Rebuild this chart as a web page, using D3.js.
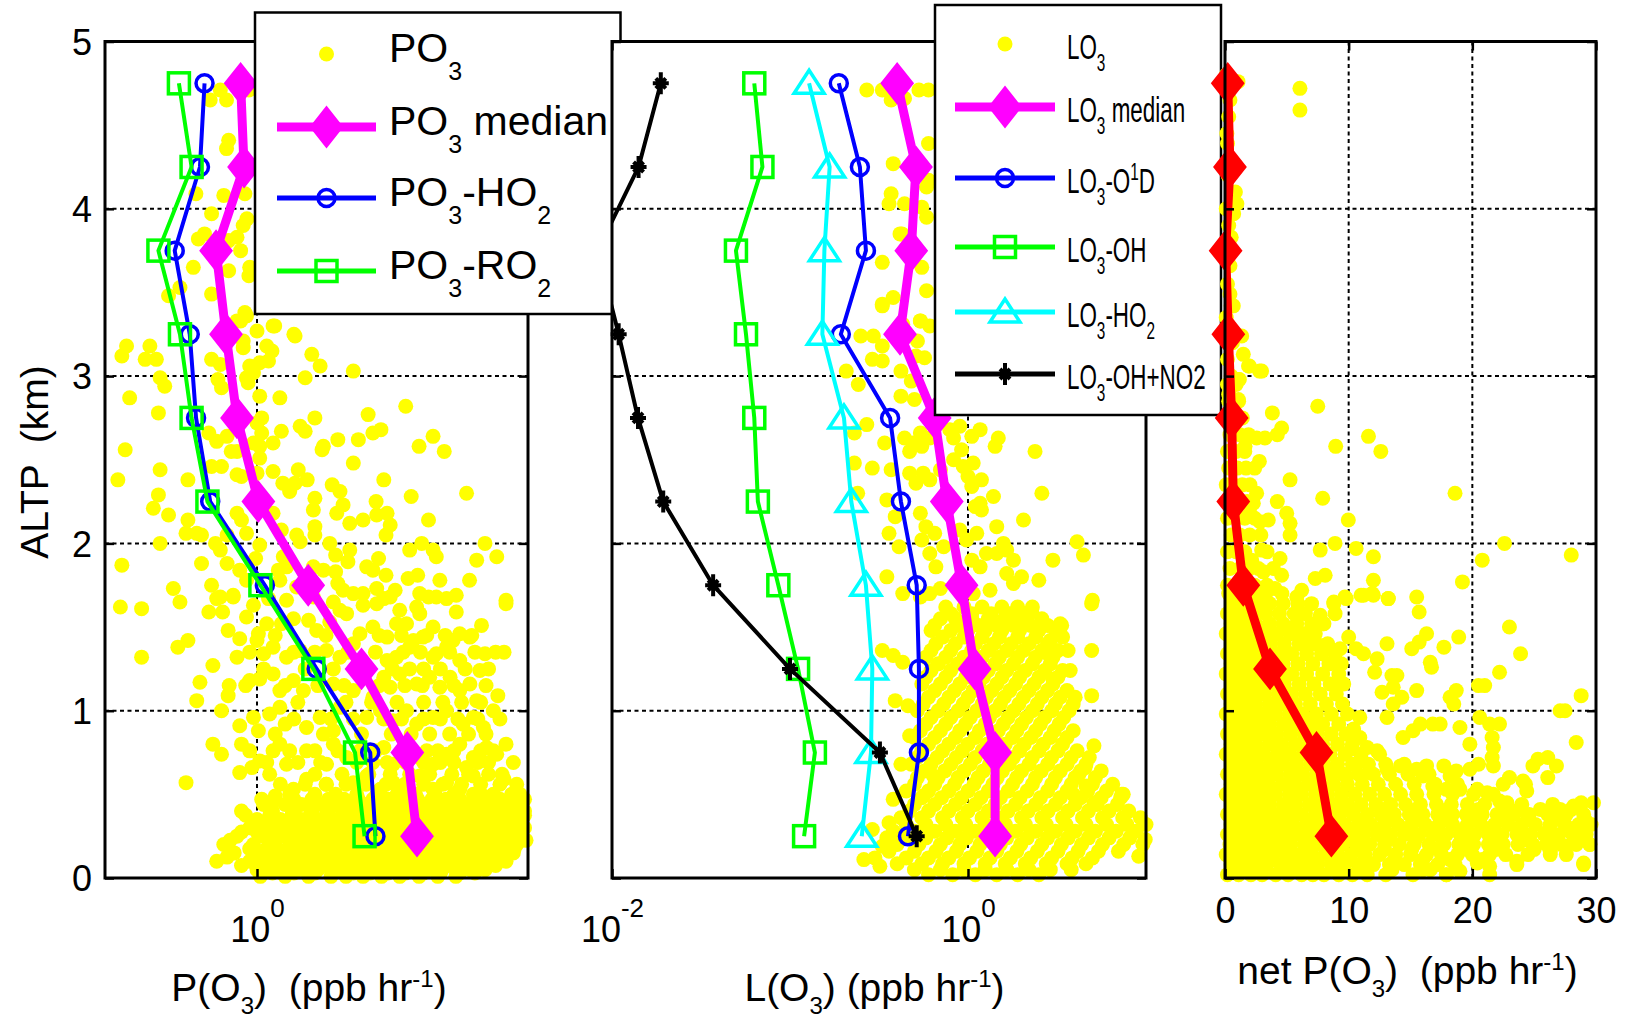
<!DOCTYPE html>
<html>
<head>
<meta charset="utf-8">
<script src="https://d3js.org/d3.v7.min.js"></script>
<style>
  body { margin: 0; background: #fff; }
  svg { display: block; }
  text { white-space: pre; }
</style>
</head>
<body>
<svg width="1630" height="1022"><defs></defs></svg>

<script>
// altitude bins (km)
var alts = [0.25, 0.75, 1.25, 1.75, 2.25, 2.75, 3.25, 3.75, 4.25, 4.75];

// panel 1 : P(O3)
var po3Median = [10.0, 8.7, 4.5, 2.09, 1.02, 0.75, 0.64, 0.555, 0.83, 0.79];
var po3HO2    = [5.5, 5.1, 2.36, 1.12, 0.51, 0.416, 0.38, 0.306, 0.44, 0.47];
var po3RO2    = [4.7, 4.1, 2.25, 1.05, 0.49, 0.39, 0.33, 0.242, 0.39, 0.325];

// panel 2 : L(O3)
var lo3Median = [1.42, 1.42, 1.09, 0.92, 0.76, 0.65, 0.415, 0.48, 0.51, 0.40];
var lo3O1D    = [0.46, 0.53, 0.53, 0.515, 0.42, 0.365, 0.193, 0.267, 0.247, 0.188];
var lo3OH     = [0.12, 0.138, 0.111, 0.086, 0.066, 0.063, 0.0566, 0.0497, 0.070, 0.063];
var lo3HO2    = [0.253, 0.285, 0.29, 0.267, 0.221, 0.201, 0.152, 0.156, 0.167, 0.128];
var lo3OHNO2  = [0.515, 0.32, 0.10, 0.037, 0.0194, 0.014, 0.0109, 0.0083, 0.0141, 0.0188];

// panel 3 : net P(O3)
var netMedian = [8.6, 7.4, 3.64, 1.48, 0.67, 0.54, 0.27, 0.05, 0.40, 0.22];

// scatter, single points [value, alt]
var po3Pts = [[0.59,4.71],[0.645,4.65],[0.51,4.65],[0.89,4.71],[0.665,4.41],[0.645,4.36],[0.415,4.09],[0.62,4.08],[0.84,4.09],[0.865,3.94],[0.82,3.9],[0.52,3.97],[0.47,3.85],[0.43,3.82],[0.75,3.83],[0.665,3.81],[0.79,3.75],[0.9,3.65],[0.665,3.63],[0.4,3.65],[0.89,3.6],[0.52,3.49],[0.28,3.48],[0.33,3.53],[0.84,3.38],[0.79,3.33],[1.29,3.3],[1.7,3.25],[1.0,3.27],[0.59,3.25],
[0.75,3.33],[0.86,3.36],[1.26,3.3],[1.73,3.24],[0.82,3.21],[0.82,3.17],[1.15,3.18],[1.24,3.15],[1.18,3.09],[1.04,3.08],[2.2,3.13],[2.48,3.06],[4.0,3.03],[2.0,2.99],[0.9,3.06],[0.95,3.02],[0.86,2.99],[0.88,2.96],[0.59,3.07],[0.52,3.1],[0.57,2.98],[0.6,2.93],[1.04,2.88],[1.39,2.87],[0.153,3.18],[0.214,3.18],[0.2,3.1],[0.235,3.1],[0.143,3.12],[0.248,2.99],[0.265,2.94],[0.16,2.87],[0.242,2.78],[0.5,2.66],[0.56,2.61],[0.65,2.64],[0.69,2.55],[0.75,2.55],[0.95,2.6],[1.04,2.58],[1.07,2.66],[1.0,2.72],[1.07,2.75],[1.26,2.6],[1.42,2.67],[1.86,2.7],[2.0,2.67],[2.3,2.75],[2.6,2.58],[2.55,2.56],[3.2,2.62],[4.3,2.62],[5.3,2.66],[5.95,2.68],[4.95,2.77],[8.5,2.82],[12.6,2.64],[10.3,2.58],[14.8,2.55],[4.0,2.48],[0.15,2.56],[0.248,2.44],[0.135,2.38],[0.37,2.38],[0.52,2.46],[0.6,2.46],[0.75,2.41],[0.8,2.4],[1.04,2.51],[1.0,2.42],[1.26,2.43],[1.81,2.44],[2.06,2.38],[1.45,2.36],[1.6,2.31],[1.73,2.36],[2.95,2.35],[3.3,2.31],[2.3,2.27],[2.25,2.2],[3.45,2.23],[3.15,2.18],[3.8,2.12],[4.6,2.14],[5.55,2.25],[6.2,2.38],[9.2,2.28],[20.4,2.3],[5.6,2.17],[6.5,2.18],[6.8,2.11],[6.4,2.05],[11.8,2.14],[0.242,2.29],[0.225,2.21],[0.28,2.17],[0.37,2.14],[0.36,2.06],[0.42,2.06],[0.248,2.0],[0.45,2.05],[0.55,2.0],[0.59,1.96],[0.65,2.05],[0.75,2.18],[0.8,2.14],[0.86,2.06],[1.04,1.99],[1.26,2.18],[1.42,2.08],[1.77,2.05],[1.86,2.01],[2.3,2.1],[2.3,2.05],[2.85,2.0],[3.1,1.93],[3.7,1.89],[3.8,1.96],[5.75,1.91],[4.85,1.86],[5.3,1.84],[6.4,1.81],[9.0,1.96],[10.7,2.0],[12.6,1.96],[13.2,1.92],[26.6,2.0],[31.5,1.92],[23.6,1.9],[21.3,1.78],[13.9,1.78],[10.1,1.81],[8.8,1.79],[3.1,1.83],[3.2,1.76],[3.45,1.72],[4.6,1.7],[5.6,1.73],[7.3,1.72],[0.143,1.87],[0.3,1.73],[0.45,1.88],[0.52,1.75],[0.59,1.68],[0.71,1.69],[0.65,1.88],[0.78,1.84],[0.86,1.78],[0.98,1.91],[1.46,1.92],[1.53,1.86],[1.36,1.84],[1.39,1.78],[1.77,1.74],[2.25,1.86],[2.6,1.84],[17.6,1.69],[36,1.66],[11.8,1.68],[10.4,1.7],[6.2,1.67],
[0.14,1.62],[0.19,1.61],[0.33,1.65],[0.5,1.59],[0.56,1.67],[0.61,1.59],[0.71,1.68],[0.86,1.56],[0.95,1.63],[1.18,1.67],[1.53,1.66],[2.25,1.68],[3.0,1.65],[3.3,1.6],[4.0,1.7],[4.6,1.63],[5.6,1.64],[6.8,1.68],[7.8,1.6],[9.95,1.62],[10.4,1.58],[13.2,1.68],[15.3,1.67],[17.6,1.59],[36,1.64],[0.66,1.48],[0.78,1.43],[1.02,1.46],[1.15,1.52],[1.42,1.52],[1.69,1.55],[2.1,1.54],[2.36,1.48],[2.85,1.53],[3.63,1.58],[4.4,1.46],[5.3,1.5],[6.5,1.44],[7.45,1.52],[8.6,1.52],[9.5,1.42],[10.9,1.44],[12.6,1.5],[16.8,1.42],[18.5,1.46],[21.4,1.44],[25.3,1.51],[35,1.35],[26.6,1.34],[15.3,1.38],[13.2,1.34],[0.19,1.32],[0.32,1.38],[0.37,1.42],[0.75,1.32],[0.53,1.27],[1.0,1.42],[1.1,1.34],[1.26,1.38],[1.53,1.32],[1.86,1.36],[2.72,1.36],[3.3,1.32],[4.0,1.4],[6.5,1.3],[7.45,1.32],[9.0,1.38],[12.6,1.32],[18.5,1.3],[24.7,1.24],[0.44,1.17],[0.42,1.06],[0.67,1.15],[0.66,1.09],[0.9,1.18],[1.04,1.19],[1.26,1.22],[1.39,1.12],[1.69,1.18],[1.95,1.12],[3.0,1.16],[4.0,1.12],[5.3,1.08],[6.2,1.2],[6.8,1.14],[7.8,1.22],[9.95,1.16],[12.0,1.2],[13.9,1.14],[16.1,1.2],[18.5,1.12],[21.4,1.16],[23.6,1.06],[32,1.09],[0.6,1.0],[0.78,0.91],[0.95,0.96],[1.02,0.88],[1.2,0.98],[1.39,1.02],[1.5,0.92],[2.04,0.9],[2.48,0.96],[3.0,0.88],[3.3,1.02],[4.85,0.96],[5.9,1.0],[7.1,0.94],[8.6,1.0],[9.95,0.92],[12.6,0.96],[15.3,1.0],[19.4,0.92],[22.5,0.96],[26,0.9],[30,1.0],[0.53,0.8],[0.6,0.74],[0.8,0.8],[0.78,0.63],[0.93,0.66],[1.04,0.7],[1.26,0.76],[1.39,0.8],[1.53,0.68],[2.04,0.76],[2.72,0.68],[3.0,0.8],[3.63,0.72],[6.2,0.78],[7.1,0.68],[10.4,0.72],[12.6,0.68],[15.3,0.74],[18.5,0.8],[22.5,0.72],[27.2,0.78],[31.5,0.74],[36,0.8],[20.4,0.66],[0.36,0.57],[1.07,0.47],[1.3,0.49],[1.69,0.53],[2.04,0.59],[2.72,0.56],[3.3,0.47],[4.0,0.57],[4.85,0.61],[5.9,0.53],[7.1,0.57],[8.6,0.51],[10.4,0.61],[12.6,0.53],[15.3,0.57],[18.5,0.53],[22.5,0.61],[26,0.49],[33,0.45],[35,0.59],[44,0.5]];

// scatter, dense rows [alt, [values]]
var po3Rows = [
  [1.45, [1.3, 2.7, 5.8, 8.0, 11.5, 15, 22]],
  [1.35, [0.9, 1.7, 2.3, 3.7, 5.5, 8.2, 10.5, 16, 23, 31]],
  [1.25, [1.1, 2.0, 3.0, 4.6, 7.0, 9.0, 11, 14, 20, 28]],
  [1.15, [0.85, 1.5, 2.4, 3.5, 5.8, 8.4, 10.8, 17, 27]],
  [1.05, [1.8, 3.6, 5.2, 7.5, 11, 14.5, 19, 25]],
  [0.95, [1.7, 2.9, 4.0, 6.2, 8.0, 11, 14, 18, 24, 33]],
  [0.86, [1.3, 2.6, 4.5, 6.9, 9.2, 12, 16, 21, 27]],
  [0.76, [0.9, 1.6, 2.3, 3.2, 4.4, 5.5, 8.3, 11.5, 13.5, 17, 25, 30]],
  [0.69, [1.15, 1.8, 2.5, 4.2, 5.3, 6.5, 8.5, 11, 14, 17, 24, 28, 40]],
  [0.62, [1.2, 2.3, 3.4, 5.0, 6.8, 9.0, 12, 16.5, 21, 28, 34]],
  [0.56, [1.4, 2.0, 2.7, 3.6, 4.8, 6.4, 8.4, 11, 14.5, 19, 25, 33, 42]],
  [0.50, [1.6, 2.3, 3.1, 4.2, 5.6, 7.5, 9.8, 13, 17, 22.5, 30, 39]],
  [0.47, [1.3, 1.7, 2.2, 2.8, 3.5, 4.3, 5.3, 6.6, 8.2, 10.1, 12.4, 15.2, 18.5, 22.5, 27, 33, 40, 47]],
  [0.44, [1.1, 1.5, 1.9, 2.5, 3.1, 3.9, 4.7, 6.0, 7.3, 9.0, 11.2, 13.5, 16.5, 20, 24, 29, 35, 42]],
  [0.40, [0.8, 1.25, 1.7, 2.2, 2.8, 3.5, 4.3, 5.3, 6.6, 8.2, 10, 12.3, 15, 18.3, 22.5, 27, 33, 40, 47]],
  [0.375, [0.85, 1.2, 1.65, 2.15, 2.7, 3.4, 4.2, 5.2, 6.4, 7.9, 9.8, 12, 14.7, 18, 22, 26.8, 32.5, 39.5, 47]],
  [0.35, [1.0, 1.4, 1.9, 2.4, 3.0, 3.7, 4.6, 5.7, 7.0, 8.7, 10.7, 13, 16, 19.6, 24, 29.5, 36, 44]],
  [0.325, [1.05, 1.4, 1.8, 2.3, 2.95, 3.75, 4.65, 5.75, 7.1, 8.8, 10.8, 13.2, 16.2, 19.8, 24.2, 29.6, 36, 43.5]],
  [0.30, [0.9, 1.2, 1.6, 2.1, 2.7, 3.4, 4.2, 5.1, 6.3, 7.8, 9.6, 11.8, 14.5, 17.8, 21.8, 26.7, 32.5, 39.5, 47]],
  [0.275, [0.8, 1.0, 1.35, 1.75, 2.25, 2.85, 3.6, 4.45, 5.5, 6.8, 8.3, 10.2, 12.5, 15.3, 18.7, 22.8, 28, 34, 41.5]],
  [0.25, [0.75, 1.1, 1.5, 1.95, 2.5, 3.2, 4.0, 4.9, 6.0, 7.4, 9.1, 11.2, 13.8, 17, 20.8, 25.5, 31, 38, 45]],
  [0.225, [0.68, 1.25, 1.65, 2.1, 2.7, 3.4, 4.25, 5.25, 6.5, 8.0, 9.8, 12, 14.8, 18.2, 22.3, 27.3, 33.5, 41, 48]],
  [0.20, [0.62, 0.95, 1.3, 1.75, 2.3, 2.9, 3.6, 4.5, 5.5, 6.8, 8.4, 10.3, 12.7, 15.6, 19.2, 23.5, 28.8, 35, 42]],
  [0.175, [0.9, 1.15, 1.55, 2.05, 2.65, 3.35, 4.2, 5.2, 6.4, 7.9, 9.7, 12, 14.7, 18, 22, 27, 33, 40.5]],
  [0.15, [0.72, 1.05, 1.4, 1.9, 2.5, 3.2, 4.0, 5.0, 6.2, 7.7, 9.5, 11.7, 14.4, 17.7, 21.7, 26.5, 32.5, 40]],
  [0.125, [0.65, 1.0, 1.3, 1.75, 2.3, 2.95, 3.7, 4.6, 5.7, 7.1, 8.8, 10.8, 13.3, 16.4, 20, 24.5, 30.5]],
  [0.10, [0.56, 0.9, 1.2, 1.6, 2.1, 2.7, 3.4, 4.3, 5.4, 6.7, 8.3, 10.2, 12.6, 15.5, 19, 23.5, 29, 36]],
  [0.075, [0.8, 1.1, 1.5, 2.0, 2.6, 3.3, 4.2, 5.3, 6.6, 8.2, 10.1, 12.5, 15.5, 19.2, 24, 31]],
  [0.05, [1.0, 1.35, 1.8, 2.4, 3.1, 3.9, 4.9, 6.1, 7.6, 9.4, 11.6, 14.3, 17.6, 21.6, 26.6]],
  [0.03, [1.25, 1.7, 2.3, 3.0, 4.0, 5.1, 6.6, 8.5, 11, 14, 18.5, 23]],
  [0.01, [1.05, 1.5, 2.1, 2.9, 3.6, 4.6, 6.0, 7.8, 10.3, 13.5, 17.5]]
];

var lo3Pts = [[0.27,4.71],[0.33,4.71],[0.37,4.65],[0.44,4.66],[0.53,4.71],[0.6,4.71],[0.38,4.27],[0.6,4.39],[0.585,4.13],[0.37,4.09],[0.44,4.03],[0.55,4.01],[0.585,3.95],[0.425,3.85],[0.33,3.68],[0.415,3.85],[0.47,3.73],[0.55,3.65],[0.33,3.43],[0.38,3.47],[0.585,3.51],[0.54,3.33],[0.425,3.27],[0.36,4.03],[0.6,4.17],
[0.33,3.42],[0.43,3.31],[0.54,3.33],[0.61,3.3],[0.294,3.24],[0.25,3.24],[0.33,3.18],[0.29,3.1],[0.33,3.09],[0.207,3.03],[0.242,2.95],[0.42,3.03],[0.48,2.97],[0.51,3.12],[0.57,3.11],[0.52,3.21],[0.42,2.88],[0.5,2.86],[0.27,2.71],[0.23,2.66],[0.34,2.6],[0.44,2.63],[0.49,2.6],[0.55,2.58],[0.47,2.55],[0.54,2.66],[0.61,2.63],[0.7,2.74],[0.79,2.68],[0.9,2.7],[0.83,2.63],[0.92,2.56],[1.05,2.64],[1.17,2.68],[1.48,2.63],[1.42,2.58],[2.38,2.55],[0.23,2.48],[0.29,2.45],[0.37,2.44],[0.47,2.42],[0.56,2.42],[0.51,2.36],[0.61,2.38],[0.7,2.44],[0.83,2.5],[0.94,2.46],[1.07,2.48],[1.0,2.4],[1.05,2.34],[1.19,2.38],[1.1,2.22],[1.19,2.2],[1.39,2.28],[1.17,2.24],[2.6,2.3],[1.45,2.1],[2.05,2.14],[0.24,2.3],[0.35,2.26],[0.39,2.16],[0.36,2.06],[0.41,1.98],[0.35,1.8],[0.54,2.18],[0.58,2.1],[0.55,2.02],[0.65,2.06],[0.61,1.94],[0.66,1.86],[0.73,1.98],[0.9,2.08],[0.98,2.02],[1.12,2.06],[1.27,1.94],[1.17,1.86],[1.05,1.9],[1.45,1.94],[1.58,2.0],[1.65,1.96],[1.8,1.9],[2.0,1.8],[2.5,1.78],[3.0,1.9],[4.1,2.01],[4.45,1.93],[1.65,1.82],[1.8,1.76],[1.33,1.72],[1.07,1.7],[0.7,1.73],[0.61,1.7],[0.54,1.68],[0.43,1.7],[5.0,1.66],
[4.95,1.64],[2.28,1.59],[3.36,1.51],[3.4,1.44],[2.9,1.42],[4.95,1.36],[4.95,1.09],[5.1,0.79],[4.55,0.66],[7.45,0.5],[5.1,0.45],[0.33,1.36],[0.38,1.33],[0.43,1.29],[0.39,1.06],[0.46,1.03],[0.47,0.85],[0.42,0.68],[0.38,0.47],[0.36,0.33],[0.33,0.19],[0.26,0.11],[0.32,0.07],[0.29,0.29],[0.56,0.49],[0.64,0.61],[9.9,0.23],[9.1,0.13],[7.3,0.5],[3.3,1.52],[3.65,1.36],[3.75,1.24],[3.0,1.19],[2.8,1.34],[4.2,0.62],[4.6,0.55],[3.9,0.5]];

var lo3Rows = [
  [1.62, [0.75, 0.95, 1.2, 1.55, 1.9, 2.3]],
  [1.58, [0.8, 1.05, 1.35, 1.7, 2.1]],
  [1.55, [0.7, 0.85, 1.05, 1.3, 1.6, 2.0, 2.6]],
  [1.51, [0.65, 0.9, 1.15, 1.45, 1.8, 2.25, 2.8]],
  [1.48, [0.62, 0.8, 1.0, 1.25, 1.55, 1.95, 2.5, 3.1]],
  [1.44, [0.72, 0.95, 1.2, 1.5, 1.9, 2.4]],
  [1.40, [0.66, 0.85, 1.1, 1.4, 1.75, 2.2, 2.8]],
  [1.36, [0.62, 0.8, 1.05, 1.3, 1.65, 2.05, 2.6, 3.2]],
  [1.32, [0.58, 0.75, 0.95, 1.2, 1.5, 1.9, 2.4, 3.0]],
  [1.28, [0.68, 0.88, 1.12, 1.42, 1.8, 2.3, 2.9]],
  [1.24, [0.62, 0.8, 1.02, 1.3, 1.65, 2.1, 2.7, 3.4]],
  [1.20, [0.58, 0.75, 0.97, 1.22, 1.55, 1.95, 2.5, 3.2]],
  [1.16, [0.55, 0.7, 0.9, 1.15, 1.45, 1.85, 2.35, 3.0]],
  [1.12, [0.65, 0.84, 1.07, 1.36, 1.72, 2.2, 2.8, 3.6]],
  [1.08, [0.6, 0.78, 1.0, 1.27, 1.6, 2.05, 2.6, 3.3, 4.0]],
  [1.04, [0.56, 0.73, 0.94, 1.2, 1.52, 1.93, 2.45, 3.1, 3.9]],
  [1.00, [0.52, 0.68, 0.88, 1.12, 1.42, 1.8, 2.3, 2.95, 3.7]],
  [0.96, [0.62, 0.8, 1.03, 1.32, 1.68, 2.13, 2.7, 3.45]],
  [0.92, [0.58, 0.75, 0.97, 1.25, 1.58, 2.0, 2.55, 3.25]],
  [0.88, [0.54, 0.7, 0.9, 1.16, 1.48, 1.88, 2.4, 3.05, 3.9]],
  [0.84, [0.5, 0.65, 0.85, 1.1, 1.4, 1.78, 2.25, 2.9, 3.6]],
  [0.80, [0.6, 0.78, 1.0, 1.28, 1.62, 2.07, 2.65, 3.4]],
  [0.76, [0.55, 0.72, 0.93, 1.2, 1.52, 1.95, 2.5, 3.2, 4.1]],
  [0.72, [0.52, 0.67, 0.86, 1.1, 1.4, 1.8, 2.3, 2.95, 3.8, 4.8]],
  [0.68, [0.48, 0.62, 0.8, 1.03, 1.32, 1.7, 2.2, 2.8, 3.6, 4.6]],
  [0.64, [0.57, 0.74, 0.95, 1.22, 1.56, 2.0, 2.58, 3.3, 4.3, 5.6]],
  [0.60, [0.52, 0.68, 0.88, 1.14, 1.46, 1.88, 2.4, 3.1, 4.0, 5.2]],
  [0.56, [0.5, 0.65, 0.84, 1.08, 1.38, 1.78, 2.3, 2.95, 3.8, 5.0, 6.5]],
  [0.52, [0.45, 0.6, 0.78, 1.0, 1.3, 1.68, 2.15, 2.8, 3.6, 4.7, 6.0]],
  [0.48, [0.55, 0.71, 0.92, 1.18, 1.52, 1.96, 2.55, 3.3, 4.3, 5.6, 7.2]],
  [0.44, [0.5, 0.65, 0.85, 1.1, 1.42, 1.85, 2.4, 3.1, 4.0, 5.3, 6.9]],
  [0.40, [0.47, 0.6, 0.78, 1.0, 1.3, 1.68, 2.18, 2.82, 3.65, 4.75, 6.2, 8.0]],
  [0.36, [0.42, 0.55, 0.72, 0.93, 1.2, 1.55, 2.0, 2.6, 3.4, 4.4, 5.7, 7.4, 9.3]],
  [0.32, [0.45, 0.58, 0.75, 0.97, 1.25, 1.62, 2.1, 2.75, 3.55, 4.6, 6.0, 7.8, 10]],
  [0.28, [0.38, 0.5, 0.65, 0.85, 1.1, 1.42, 1.85, 2.4, 3.1, 4.0, 5.2, 6.8, 8.8]],
  [0.24, [0.35, 0.45, 0.58, 0.76, 0.98, 1.27, 1.65, 2.15, 2.8, 3.65, 4.75, 6.2, 8.1]],
  [0.20, [0.4, 0.53, 0.7, 0.9, 1.17, 1.52, 1.98, 2.6, 3.35, 4.35, 5.7, 7.5, 9.6]],
  [0.16, [0.36, 0.5, 0.66, 0.86, 1.12, 1.45, 1.88, 2.45, 3.2, 4.15, 5.4, 7.0]],
  [0.12, [0.3, 0.45, 0.6, 0.78, 1.02, 1.33, 1.73, 2.25, 2.95, 3.85, 5.0]],
  [0.085, [0.4, 0.55, 0.72, 0.95, 1.25, 1.62, 2.1, 2.75, 3.6, 4.6]],
  [0.05, [0.5, 0.7, 0.95, 1.25, 1.65, 2.2, 2.9, 3.8]],
  [0.02, [0.6, 0.82, 1.1, 1.45, 1.9, 2.5]]
];

var netPts = [[6.06,4.72],[6.06,4.59],[1.05,4.76],[0.4,4.65],[0.2,4.39],[0.84,4.1],[0.96,4.03],[0.7,3.97],[0.5,3.83],[0.4,3.66],[0.4,3.49],[0.5,3.42],[1.35,3.24],[1.48,3.13],[1.9,3.06],[2.8,3.03],[1.1,2.98],[0.3,2.89],
[0.1,4.8],[0.3,4.55],[0.15,4.45],[0.25,4.2],[0.1,4.0],[0.3,3.9],[0.15,3.7],[0.2,3.55],[0.1,3.35],[0.3,3.3],[0.6,3.2],[0.2,3.1],[0.5,3.0],
[0.67,3.42],[1.97,3.06],[2.96,3.03],[1.16,2.98],[1.08,2.86],[7.5,2.82],[3.83,2.78],[4.58,2.69],[4.23,2.65],[2.56,2.63],[3.23,2.63],[1.62,2.58],[2.78,2.49],[8.95,2.58],[11.6,2.64],[12.6,2.55],[5.26,2.38],[2.02,2.35],[2.56,2.3],[18.6,2.3],[7.9,2.27],[4.23,2.25],[2.29,2.24],[2.02,2.18],[2.83,2.13],[3.5,2.14],[4.99,2.18],[5.26,2.12],[5.26,2.05],[9.97,2.14],[8.9,2.0],[7.7,1.96],[10.6,1.97],[12,1.92],[22.6,2.0],[20.8,1.9],[28,1.93],[2.96,1.96],[2.16,1.9],[4.45,1.91],[3.91,1.85],[4.58,1.81],[3.1,1.83],[7.3,1.79],[8.1,1.81],[12,1.78],[19.2,1.77],[15.5,1.68],[13.2,1.67],[11.9,1.7],[11,1.69],[9.7,1.68],[8.8,1.65],[6.2,1.72],[5.8,1.68],[4.04,1.73],[3.1,1.7],
[9.8,1.67],[11.2,1.69],[12,1.69],[13.2,1.67],[15.7,1.59],[8.8,1.64],[8.9,1.58],[7.7,1.57],[7.0,1.52],[7.95,1.52],[6.1,1.45],[6.7,1.42],[7.7,1.39],[9.3,1.37],[10,1.44],[10.6,1.37],[11.2,1.34],[12.3,1.31],[13.1,1.4],[12.1,1.23],[13.5,1.21],[13.9,1.21],[12.7,1.11],[13.6,1.14],[15.1,1.37],[15.7,1.41],[16.3,1.46],[17.7,1.38],[18.9,1.44],[16.6,1.29],[16.7,1.26],[23,1.5],[23.9,1.34],[22.2,1.23],[20.5,1.15],[21,1.15],[18.7,1.12],[18.2,1.08],[18.5,1.04],[28.8,1.09],[27.1,1.0],[27.5,1.0],[28.4,0.81],[14.3,1.08],[15.5,1.12],[13.6,1.04],[13.1,0.96],[14.4,0.84],[15.2,0.88],[15.8,0.92],[16.8,0.92],[17.4,0.92],[19,0.9],[19.8,0.8],[20.6,0.96],[21.4,0.92],[22.2,0.92],[21.6,0.84],[21.7,0.78],[21.6,0.72],[21.7,0.67],[20.5,0.68],[19.8,0.65],[23,0.6],[24.1,0.58],[24.4,0.52],[24.9,0.67],[25.3,0.71],[26.1,0.72],[26.8,0.67],[26.1,0.6],[10.9,0.84],[11.5,0.78],[12.3,0.76],[10.9,0.96],[10.4,0.89],[10.2,0.77],[9.0,0.64],[9.8,0.61],[10.6,0.68],[11.7,0.63],[13.1,0.65],[14.2,0.67],[15.5,0.65],[16.3,0.67],[17.7,0.67],[18.7,0.64],[18.2,0.61],[16,0.61],[16.8,0.55],[17.9,0.53],[19,0.53],[20.4,0.53],[21.2,0.51],[22.2,0.46],[22.8,0.45],[23.6,0.4],[27.1,0.41],[28.2,0.43],[28.8,0.45],[29.8,0.45],[29.5,0.2],[29,0.09],[23.6,0.1],[26.3,0.16],[27.6,0.19],[21.4,0.07],[20.4,0.09],[19,0.04],[16.6,0.05],[17.9,0.02]];

var netRows = [
  [2.95, [0.2, 0.9]], [2.85, [0.3, 1.1]], [2.75, [0.1, 0.8, 1.4]], [2.65, [0.4, 1.2, 1.9]],
  [2.55, [0.2, 0.9, 1.6]], [2.45, [0.3, 1.0, 1.7, 2.4]], [2.35, [0.1, 0.7, 1.4]], [2.25, [0.4, 1.1, 1.8]],
  [2.15, [0.2, 0.9, 1.6, 2.4]], [2.05, [0.5, 1.2, 2.0, 2.9]], [1.95, [0.2, 0.9, 1.6, 3.4]],
  [1.85, [0.4, 1.2, 2.0, 2.7]], [1.75, [0.2, 0.9, 1.6, 2.4, 3.4]],
  [1.70, [0.3, 1.3, 2.3, 3.3, 4.6]],
  [1.64, [0.6, 1.6, 2.6, 3.6, 4.7, 5.9, 7.0]],
  [1.58, [0.2, 1.2, 2.2, 3.3, 4.4, 5.6, 6.5]],
  [1.52, [0.5, 1.5, 2.5, 3.6, 4.7, 5.8, 8.0]],
  [1.46, [0.1, 1.1, 2.1, 3.1, 4.2, 5.3, 6.4, 7.3]],
  [1.40, [0.6, 1.6, 2.6, 3.7, 4.8, 6.0, 7.2, 8.3]],
  [1.34, [0.2, 1.2, 2.2, 3.2, 4.3, 5.4, 6.6, 7.8, 8.9]],
  [1.28, [0.5, 1.5, 2.5, 3.6, 4.7, 5.9, 7.1, 8.4, 9.4]],
  [1.22, [0.1, 1.1, 2.1, 3.2, 4.3, 5.4, 6.6, 7.9, 9.2]],
  [1.16, [0.6, 1.6, 2.6, 3.7, 4.8, 6.0, 7.2, 8.5, 9.6]],
  [1.10, [0.2, 1.2, 2.2, 3.2, 4.3, 5.4, 6.5, 7.7, 9.0]],
  [1.04, [0.5, 1.5, 2.5, 3.6, 4.6, 5.7, 6.9, 8.2, 9.5]],
  [0.98, [0.1, 1.1, 2.1, 3.1, 4.1, 5.2, 6.3, 7.4, 8.6, 9.9]],
  [0.92, [0.6, 1.6, 2.6, 3.6, 4.7, 5.7, 6.8, 7.9, 9.2]],
  [0.86, [0.2, 1.2, 2.2, 3.2, 4.2, 5.3, 6.4, 7.5, 8.6, 9.8]],
  [0.80, [0.5, 1.5, 2.5, 3.6, 4.6, 5.7, 6.8, 7.9, 9.1, 10.3]],
  [0.74, [0.1, 1.1, 2.1, 3.1, 4.2, 5.2, 6.3, 7.4, 8.5, 9.7, 11.0, 12.5]],
  [0.68, [0.6, 1.6, 2.6, 3.7, 4.7, 5.8, 6.9, 8.0, 9.1, 10.3, 11.6, 13.0, 14.5]],
  [0.62, [0.2, 1.2, 2.2, 3.2, 4.2, 5.3, 6.3, 7.4, 8.5, 9.6, 10.8, 12.0, 13.3, 14.8, 16.5]],
  [0.56, [0.5, 1.5, 2.5, 3.5, 4.6, 5.6, 6.7, 7.7, 8.8, 9.9, 11.1, 12.4, 13.8, 15.3, 17.0, 18.8, 22.5, 24.3]],
  [0.50, [0.1, 1.1, 2.1, 3.1, 4.1, 5.2, 6.2, 7.3, 8.3, 9.4, 10.5, 11.7, 12.9, 14.2, 15.5, 16.9, 18.4, 20.1, 21.7]],
  [0.44, [0.6, 1.6, 2.6, 3.6, 4.7, 5.7, 6.8, 7.8, 8.9, 9.9, 11.0, 12.2, 13.4, 14.6, 15.8, 17.1, 18.3, 19.6, 21.0, 22.4, 24.0, 26.5, 28.8]],
  [0.41, [0.8, 2.7, 5.0, 7.5, 10.0, 12.8, 15.5, 18.0, 20.5, 23.0, 25.5, 28.0]],
  [0.38, [0.2, 1.2, 2.2, 3.2, 4.2, 5.2, 6.2, 7.3, 8.3, 9.3, 10.4, 11.5, 12.6, 13.7, 14.9, 16.0, 17.2, 18.4, 19.5, 20.8, 22.0, 23.3, 24.6, 26.1, 27.6, 29.0]],
  [0.35, [1.0, 3.0, 5.0, 7.0, 9.2, 11.3, 13.5, 15.6, 17.8, 20.0, 22.3, 24.5, 26.8, 29.1]],
  [0.32, [0.5, 1.5, 2.5, 3.5, 4.5, 5.5, 6.6, 7.6, 8.7, 9.7, 10.8, 11.8, 12.9, 14.0, 15.1, 16.2, 17.3, 18.4, 19.6, 20.7, 21.8, 22.9, 24.0, 25.1, 26.3, 27.5, 28.6, 29.6]],
  [0.29, [0.7, 2.6, 4.5, 6.6, 8.5, 10.6, 12.7, 14.9, 17.1, 19.3, 21.5, 23.8, 26.2, 28.5]],
  [0.26, [0.2, 1.1, 2.0, 3.0, 4.0, 5.0, 6.0, 7.0, 8.0, 9.0, 10.1, 11.2, 12.3, 13.4, 14.5, 15.7, 16.8, 17.9, 19.0, 20.2, 21.3, 22.4, 23.6, 24.7, 25.8, 27.0, 28.1, 29.2]],
  [0.23, [1.0, 2.9, 4.8, 6.9, 8.9, 11.0, 13.2, 15.4, 17.6, 19.8, 22.0, 24.3, 26.6, 28.9]],
  [0.20, [0.4, 1.3, 2.3, 3.3, 4.3, 5.3, 6.4, 7.4, 8.4, 9.5, 10.6, 11.7, 12.9, 14.1, 15.3, 16.5, 17.7, 18.9, 20.1, 21.3, 22.5, 23.7, 24.9, 26.0, 27.2, 28.4, 29.5]],
  [0.17, [0.6, 2.5, 4.5, 6.5, 8.6, 10.7, 12.9, 15.1, 17.3, 19.6, 21.9, 25.0]],
  [0.14, [0.1, 1.0, 1.9, 2.9, 3.9, 5.0, 6.0, 7.0, 8.1, 9.1, 10.2, 11.3, 12.5, 13.8, 15.0, 16.3, 17.5, 18.8, 20.0, 21.4, 22.7, 24.5, 26.3, 27.6]],
  [0.11, [1.0, 3.0, 5.0, 7.1, 9.2, 11.4, 13.7, 16.0, 18.2, 20.8]],
  [0.08, [0.5, 1.5, 2.5, 3.4, 4.5, 5.6, 6.6, 7.5, 8.6, 9.7, 10.8, 12.0, 13.3, 14.5, 15.8, 17.2, 18.6, 23.6, 29.0]],
  [0.05, [0.8, 2.8, 4.8, 6.8, 8.8, 11.0, 13.5, 16.0]],
  [0.02, [0.2, 1.1, 2.1, 3.0, 4.1, 5.1, 6.2, 7.1, 8.0, 9.2, 10.3, 11.5, 13.0, 15.2, 17.9, 21.4]]
];

// legend entries
var legend1Labels = [
  [["PO", "n"], ["3", "sub"]],
  [["PO", "n"], ["3", "sub"], [" median", "n"]],
  [["PO", "n"], ["3", "sub"], ["-HO", "n"], ["2", "sub"]],
  [["PO", "n"], ["3", "sub"], ["-RO", "n"], ["2", "sub"]]
];
var legend2Labels = [
  [["LO", "n"], ["3", "sub"]],
  [["LO", "n"], ["3", "sub"], [" median", "n"]],
  [["LO", "n"], ["3", "sub"], ["-O", "n"], ["1", "sup"], ["D", "n"]],
  [["LO", "n"], ["3", "sub"], ["-OH", "n"]],
  [["LO", "n"], ["3", "sub"], ["-HO", "n"], ["2", "sub"]],
  [["LO", "n"], ["3", "sub"], ["-OH+NO2", "n"]]
];

var FONT = "'Liberation Sans', Arial, Helvetica, sans-serif";
var DOT_R = 7.5;
var svg = d3.select("svg");
var plotTop = 41.5, plotBottom = 878;

var y = d3.scaleLinear().domain([0, 5]).range([plotBottom, plotTop]);
var xP = d3.scaleLog().domain([0.1122, 49.4]).range([105, 528]);
var xL = d3.scaleLog().domain([0.01, 10]).range([612, 1146]);
var xN = d3.scaleLinear().domain([0, 30]).range([1225, 1596]);

function flat(pts, rows) {
  var out = pts.slice();
  rows.forEach(function(r) { r[1].forEach(function(v) { out.push([v, r[0]]); }); });
  return out;
}

function rich(t, parts, size, small, subDy, supDy) {
  var cur = 0;
  parts.forEach(function(p) {
    var target = p[1] == "sub" ? subDy : (p[1] == "sup" ? -supDy : 0);
    var ts = t.append("tspan").text(p[0]).attr("font-size", p[1] == "n" ? size : small);
    if (target != cur) ts.attr("dy", target - cur);
    cur = target;
  });
}

function marker(g, type, color, cx, cy) {
  var m = g.append("g").attr("transform", "translate(" + cx + "," + cy + ")");
  if (type == "diamond") {
    m.append("path").attr("d", "M0,-19L15,0L0,19L-15,0Z").attr("fill", color)
      .attr("stroke", color).attr("stroke-width", 3);
  } else if (type == "circle") {
    m.append("circle").attr("r", 8.5).attr("fill", "none").attr("stroke", color).attr("stroke-width", 3.5);
  } else if (type == "square") {
    m.append("rect").attr("x", -10.5).attr("y", -10.5).attr("width", 21).attr("height", 21)
      .attr("fill", "none").attr("stroke", color).attr("stroke-width", 3.5);
  } else if (type == "triangle") {
    m.append("path").attr("d", "M0,-13L15,10L-15,10Z").attr("fill", "none")
      .attr("stroke", color).attr("stroke-width", 3.5);
  } else if (type == "star") {
    m.append("path").attr("d", "M0,-11V11M-8,0H8M-5,-5L5,5M-5,5L5,-5")
      .attr("stroke", color).attr("stroke-width", 4);
    m.append("circle").attr("r", 4).attr("fill", color);
  } else if (type == "dot") {
    m.append("circle").attr("r", 7.5).attr("fill", color);
  }
}

function drawPanel(x, cfg) {
  var g = svg.append("g");
  var xa = x.range()[0], xb = x.range()[1];
  g.append("rect").attr("x", xa).attr("y", plotTop).attr("width", xb - xa)
    .attr("height", plotBottom - plotTop).attr("fill", "white");
  svg.select("defs").append("clipPath").attr("id", cfg.id).append("rect")
    .attr("x", xa).attr("y", plotTop).attr("width", xb - xa).attr("height", plotBottom - plotTop);

  // dotted grid
  var grid = g.append("g").attr("stroke", "black").attr("stroke-width", 2).attr("stroke-dasharray", "4,3.5");
  grid.selectAll("line.h").data([1, 2, 3, 4]).enter().append("line").attr("class", "h")
    .attr("x1", xa).attr("x2", xb).attr("y1", function(d) { return y(d); }).attr("y2", function(d) { return y(d); });
  grid.selectAll("line.v").data(cfg.grid).enter().append("line").attr("class", "v")
    .attr("x1", function(d) { return x(d); }).attr("x2", function(d) { return x(d); })
    .attr("y1", plotTop).attr("y2", plotBottom);

  // scatter
  g.append("g").selectAll("circle").data(cfg.scatter).enter().append("circle")
    .attr("cx", function(d) { return x(d[0]); }).attr("cy", function(d) { return y(d[1]); })
    .attr("r", DOT_R).attr("fill", "#ffff00");

  // profiles
  var dom = x.domain();
  cfg.series.forEach(function(s) {
    g.append("path").datum(s.values).attr("clip-path", "url(#" + cfg.id + ")")
      .attr("d", d3.line().x(function(d) { return x(d); }).y(function(d, i) { return y(alts[i]); }))
      .attr("fill", "none").attr("stroke", s.color).attr("stroke-width", s.width)
      .attr("stroke-linejoin", "round");
    s.values.forEach(function(v, i) {
      if (v < dom[0] || v > dom[1]) return;
      marker(g, s.marker, s.color, x(v), y(alts[i]));
    });
  });

  // inward ticks on all four sides
  var tk = g.append("g");
  tk.append("g").attr("transform", "translate(0," + plotBottom + ")")
    .call(d3.axisBottom(x).tickValues(cfg.ticks).tickSize(-9).tickFormat(""));
  tk.append("g").attr("transform", "translate(0," + plotTop + ")")
    .call(d3.axisTop(x).tickValues(cfg.ticks).tickSize(-9).tickFormat(""));
  tk.append("g").attr("transform", "translate(" + xa + ",0)")
    .call(d3.axisLeft(y).ticks(5).tickSize(-9).tickFormat(""));
  tk.append("g").attr("transform", "translate(" + xb + ",0)")
    .call(d3.axisRight(y).ticks(5).tickSize(-9).tickFormat(""));
  tk.selectAll(".domain").remove();
  tk.selectAll(".tick line").attr("stroke-width", 2.5);

  // x tick labels
  var lab = g.append("g").attr("transform", "translate(0," + plotBottom + ")")
    .call(d3.axisBottom(x).tickValues(cfg.ticks).tickSize(0).tickFormat(""));
  lab.select(".domain").remove();
  lab.attr("font-family", FONT).attr("font-size", 36);
  lab.selectAll(".tick text").attr("fill", "black").attr("dy", null).each(function(d) {
    var t = d3.select(this);
    if (cfg.log) {
      t.attr("y", 64);
      t.append("tspan").text("10");
      t.append("tspan").text(String(Math.round(Math.log10(d)))).attr("font-size", 26).attr("dy", -25);
    } else {
      t.attr("y", 45).text(String(d));
    }
  });

  if (cfg.yLabels) {
    var yl = g.append("g").attr("transform", "translate(" + xa + ",0)")
      .call(d3.axisLeft(y).ticks(5).tickSize(0).tickPadding(13));
    yl.select(".domain").remove();
    yl.attr("font-family", FONT).attr("font-size", 36);
    yl.selectAll(".tick text").attr("fill", "black").attr("dy", "0.35em");
  }

  g.append("rect").attr("x", xa).attr("y", plotTop).attr("width", xb - xa)
    .attr("height", plotBottom - plotTop).attr("fill", "none").attr("stroke", "black").attr("stroke-width", 3);
  return g;
}

function legendRow(g, x0, x1, yy, s, lineW) {
  if (s.marker != "dot") {
    g.append("line").attr("x1", x0).attr("x2", x1).attr("y1", yy).attr("y2", yy)
      .attr("stroke", s.color).attr("stroke-width", lineW);
  }
  marker(g, s.marker, s.color, (x0 + x1) / 2, yy);
}

// ---- panel 1
drawPanel(xP, {
  id: "c1", log: true, grid: [1], ticks: [1], yLabels: true,
  scatter: flat(po3Pts, po3Rows),
  series: [
    { values: po3Median, color: "#ff00ff", width: 9, marker: "diamond" },
    { values: po3HO2, color: "#0000ff", width: 4, marker: "circle" },
    { values: po3RO2, color: "#00ff00", width: 4, marker: "square" }
  ]
});

// ---- legend 1
var leg1 = svg.append("g");
leg1.append("rect").attr("x", 255).attr("y", 12.5).attr("width", 365.5).attr("height", 301.5)
  .attr("fill", "white").attr("stroke", "black").attr("stroke-width", 2.5);
var leg1Series = [
  { color: "#ffff00", marker: "dot", w: 0 },
  { color: "#ff00ff", marker: "diamond", w: 9 },
  { color: "#0000ff", marker: "circle", w: 5 },
  { color: "#00ff00", marker: "square", w: 5 }
];
var leg1Y = [54, 127, 198, 271];
leg1Series.forEach(function(s, i) {
  legendRow(leg1, 277, 376, leg1Y[i], s, s.w);
  var t = leg1.append("text").attr("x", 389).attr("y", leg1Y[i] + 8)
    .attr("font-family", FONT).attr("font-size", 41);
  rich(t, legend1Labels[i], 41, 25, 18, 14);
});

// ---- panel 2
drawPanel(xL, {
  id: "c2", log: true, grid: [1], ticks: [0.01, 1], yLabels: false,
  scatter: flat(lo3Pts, lo3Rows),
  series: [
    { values: lo3Median, color: "#ff00ff", width: 9, marker: "diamond" },
    { values: lo3O1D, color: "#0000ff", width: 4, marker: "circle" },
    { values: lo3OH, color: "#00ff00", width: 4, marker: "square" },
    { values: lo3HO2, color: "#00ffff", width: 4, marker: "triangle" },
    { values: lo3OHNO2, color: "#000000", width: 4, marker: "star" }
  ]
});

// ---- legend 2
var leg2 = svg.append("g");
leg2.append("rect").attr("x", 935).attr("y", 5).attr("width", 286).attr("height", 410)
  .attr("fill", "white").attr("stroke", "black").attr("stroke-width", 2.5);
var leg2Series = [
  { color: "#ffff00", marker: "dot", w: 0 },
  { color: "#ff00ff", marker: "diamond", w: 9 },
  { color: "#0000ff", marker: "circle", w: 5 },
  { color: "#00ff00", marker: "square", w: 5 },
  { color: "#00ffff", marker: "triangle", w: 5 },
  { color: "#000000", marker: "star", w: 5 }
];
var leg2Y = [44, 107, 178, 247, 312, 374];
leg2Series.forEach(function(s, i) {
  legendRow(leg2, 955, 1055, leg2Y[i], s, s.w);
  var t = leg2.append("text")
    .attr("transform", "translate(1067," + (leg2Y[i] + 15) + ") scale(0.64,1)")
    .attr("font-family", FONT).attr("font-size", 35);
  rich(t, legend2Labels[i], 35, 24, 12, 13);
});

// ---- panel 3
drawPanel(xN, {
  id: "c3", log: false, grid: [10, 20], ticks: [0, 10, 20, 30], yLabels: false,
  scatter: flat(netPts, netRows),
  series: [
    { values: netMedian, color: "#ff0000", width: 9, marker: "diamond" }
  ]
});

// ---- axis titles
function title(x, yy, parts) {
  var t = svg.append("text").attr("x", x).attr("y", yy).attr("text-anchor", "middle")
    .attr("font-family", FONT).attr("font-size", 39);
  rich(t, parts, 39, 24, 13, 14);
}
title(309, 1001, [["P(O", "n"], ["3", "sub"], [")  (ppb hr", "n"], ["-1", "sup"], [")", "n"]]);
title(874.5, 1001, [["L(O", "n"], ["3", "sub"], [") (ppb hr", "n"], ["-1", "sup"], [")", "n"]]);
title(1407.5, 984, [["net P(O", "n"], ["3", "sub"], [")  (ppb hr", "n"], ["-1", "sup"], [")", "n"]]);

svg.append("text").attr("transform", "translate(48,462) rotate(-90)").attr("text-anchor", "middle")
  .attr("font-family", FONT).attr("font-size", 39).text("ALTP  (km)");
</script>
</body>
</html>
